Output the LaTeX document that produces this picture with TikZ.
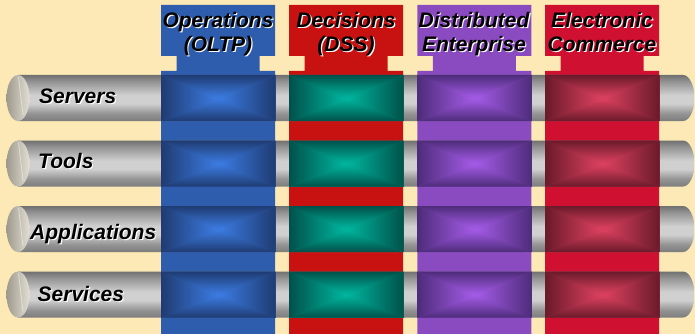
\documentclass[tikz,border=0pt]{standalone}
\usepackage{fontspec}
\setmainfont{Liberation Sans}
\definecolor{bg}{HTML}{FDE9B5}
\definecolor{colA}{HTML}{2F5DAD}
\definecolor{colB}{HTML}{C81212}
\definecolor{colC}{HTML}{8B4BC0}
\definecolor{colD}{HTML}{D01030}
\definecolor{edgeA}{HTML}{1F3B72}
\definecolor{cenA}{HTML}{3C7DE4}
\definecolor{edgeB}{HTML}{00514A}
\definecolor{cenB}{HTML}{00B8A0}
\definecolor{edgeC}{HTML}{4E2C7A}
\definecolor{cenC}{HTML}{A65CEA}
\definecolor{edgeD}{HTML}{6A1A2A}
\definecolor{cenD}{HTML}{E04262}
\definecolor{cylD}{HTML}{707070}
\definecolor{cylM}{HTML}{939393}
\definecolor{cylL}{HTML}{D0D0D0}
\definecolor{cylB}{HTML}{7C7C7C}
\definecolor{capD}{HTML}{9E9B8E}
\definecolor{capL}{HTML}{E2DFD2}
\pgfdeclareverticalshading{cyl}{100bp}{color(0bp)=(cylB); color(25bp)=(cylB); color(33bp)=(cylM); color(44bp)=(cylL); color(53bp)=(cylL); color(68bp)=(cylM); color(75bp)=(cylD); color(100bp)=(cylD)}
\tikzset{
  txt/.style={font=\fontsize{21}{24}\selectfont\bfseries\itshape, inner sep=0pt, anchor=base},
  lbl/.style={font=\fontsize{21}{24}\selectfont\bfseries\itshape, inner sep=0pt, anchor=base west},
  shadowtxt/.style={text=white},
}
\begin{document}
\begin{tikzpicture}[x=1pt,y=-1pt]
\useasboundingbox (0,0) rectangle (695,334);
\fill[bg] (0,0) rectangle (695,334);
% columns
\foreach \cx/\cc in {161/colA,289/colB,417.3/colC,545/colD} {
  \fill[\cc] (\cx,5) -- ++(114,0) -- ++(0,51) -- ++(-15.5,0) -- ++(0,15) -- ++(15.5,0)
     -- (\cx+114,334) -- (\cx,334) -- ++(0,-263) -- ++(15.5,0) -- ++(0,-15) -- ++(-15.5,0) -- cycle;
}
% rows (cylinders)
\foreach \t in {75,140.5,206,271.5} {
  \shade[shading=cyl] (18,\t) -- (683,\t) arc[start angle=-90,end angle=90,x radius=11.5,y radius=23] -- (18,\t+46) -- cycle;
  \shade[left color=capD, right color=capL] (18,\t+23) ellipse [x radius=11.5, y radius=23];
  \draw[white, opacity=0.45, line width=0.8pt] (18.5,\t+2) -- (23,\t+40);
  \foreach \cx/\ed/\ce in {161/edgeA/cenA,289/edgeB/cenB,417.3/edgeC/cenC,545/edgeD/cenD} {
    \pgfmathsetmacro\xa{\cx}
    \pgfmathsetmacro\xb{\cx+114.5}
    \pgfmathsetmacro\xm{\cx+57.25}
    \pgfmathsetmacro\ya{\t}
    \pgfmathsetmacro\yb{\t+46}
    \pgfmathsetmacro\ym{\t+23}
    \fill[\ed!55!\ce] (\xa,\ya) rectangle (\xb,\yb);
    \shade[top color=\ed, bottom color=\ce] (\xa,\ya) -- (\xb,\ya) -- (\xm,\ym) -- cycle;
    \shade[top color=\ce, bottom color=\ed] (\xa,\yb) -- (\xb,\yb) -- (\xm,\ym) -- cycle;
    \shade[left color=\ed, right color=\ce] (\xa,\ya) -- (\xa,\yb) -- (\xm,\ym) -- cycle;
    \shade[left color=\ce, right color=\ed] (\xb,\ya) -- (\xb,\yb) -- (\xm,\ym) -- cycle;
  }
}
% header texts
\foreach \x/\la/\lb/\n in {218/Operations/(OLTP)/a,346/Decisions/(DSS)/b,474/Distributed/Enterprise/c,602/Electronic/Commerce/d} {
  \node[txt, shadowtxt] (hs1\n) at (\x+1.2,28.7) {\la};
  \node[txt] (h1\n) at (\x,27.5) {\la};
  \node[txt, shadowtxt] (hs2\n) at (\x+1.2,52.7) {\lb};
  \node[txt] (h2\n) at (\x,51.5) {\lb};
}
% row labels
\foreach \x/\y/\la in {39/103.5/Servers,38/168.5/Tools,30/239/Applications,37.5/301.5/Services} {
  \node[lbl, shadowtxt] (ls\la) at (\x+1.2,\y+1.2) {\la};
  \node[lbl] (l\la) at (\x,\y) {\la};
}
\end{tikzpicture}
\end{document}
